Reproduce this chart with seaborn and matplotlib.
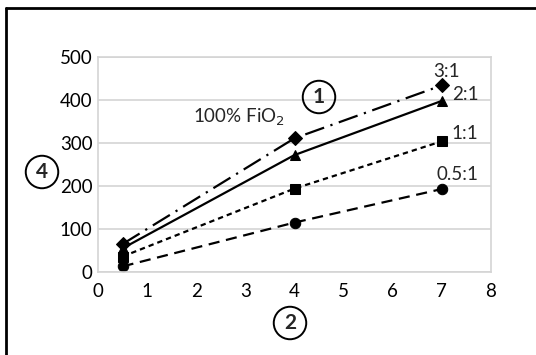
import numpy as np
import pandas as pd
import seaborn as sns
import matplotlib.pyplot as plt
from matplotlib.lines import Line2D

# dane
tv = [0.5, 4.0, 7.0]
ratios = ["3:1", "2:1", "1:1", "0.5:1"]
y_31 = [65, 311, 434]
y_21 = [55, 272, 398]
y_11 = [36, 194, 304]
y_051 = [13, 115, 193]

df = pd.DataFrame({
    "x": tv * 4,
    "y": y_31 + y_21 + y_11 + y_051,
    "ratio": [r for r in ratios for _ in tv],
})

sns.set_theme(style="white")
plt.rcParams["font.family"] = ["Lato", "DejaVu Sans"]

fig = plt.figure(figsize=(5.36, 3.55), dpi=100)
ax = fig.add_axes([98 / 536, 1 - 272 / 355, 393 / 536, 215 / 355])

sns.lineplot(data=df, x="x", y="y", style="ratio", color="black", lw=1.6,
             markers={"3:1": "D", "2:1": "^", "1:1": "s", "0.5:1": "o"},
             dashes={"3:1": (9, 3, 1, 3), "2:1": "", "1:1": (2.4, 1.8), "0.5:1": (5, 3)},
             markersize=7.5, markeredgecolor="black", legend=False, ax=ax)

ax.set_xlim(0, 8)
ax.set_ylim(0, 500)
ax.set_xticks(range(0, 9))
ax.set_yticks(range(0, 501, 100))
ax.set_xlabel("")
ax.set_ylabel("")
ax.yaxis.grid(True, color="#d4d4d4", lw=1.2)
for s in ax.spines.values():
    s.set_color("#d4d4d4")
    s.set_linewidth(1.2)
ax.tick_params(axis="both", length=0, labelsize=13.5, colors="black")
ax.tick_params(axis="x", pad=8)
ax.tick_params(axis="y", pad=4)

# etykiety serii
ax.text(7.09, 466, "3:1", fontsize=13.5, ha="center", va="center")
ax.text(7.2, 412, "2:1", fontsize=13.5, ha="left", va="center")
ax.text(7.19, 323, "1:1", fontsize=13.5, ha="left", va="center")
ax.text(6.9, 226, "0.5:1", fontsize=13.5, ha="left", va="center")

ax.text(1.93, 360, "100% FiO$_2$", fontsize=13.5, va="center")

circ = dict(boxstyle="circle,pad=0.3", fc="none", ec="black", lw=1.4)
fig.text(319 / 536, 1 - 97 / 355, "1", fontsize=15, fontweight="bold", ha="center", va="center", bbox=circ)
fig.text(290 / 536, 1 - 323 / 355, "2", fontsize=15, fontweight="bold", ha="center", va="center", bbox=circ)
fig.text(42 / 536, 1 - 172 / 355, "4", fontsize=15, fontweight="bold", ha="center", va="center", bbox=circ)

# ramka rysunku (tylko gora i lewa strona)
fig.add_artist(Line2D([6 / 536, 1], [1 - 8 / 355, 1 - 8 / 355], color="black", lw=2))
fig.add_artist(Line2D([6 / 536, 6 / 536], [0, 1 - 8 / 355], color="black", lw=2))

fig.savefig("out.png", dpi=100)
